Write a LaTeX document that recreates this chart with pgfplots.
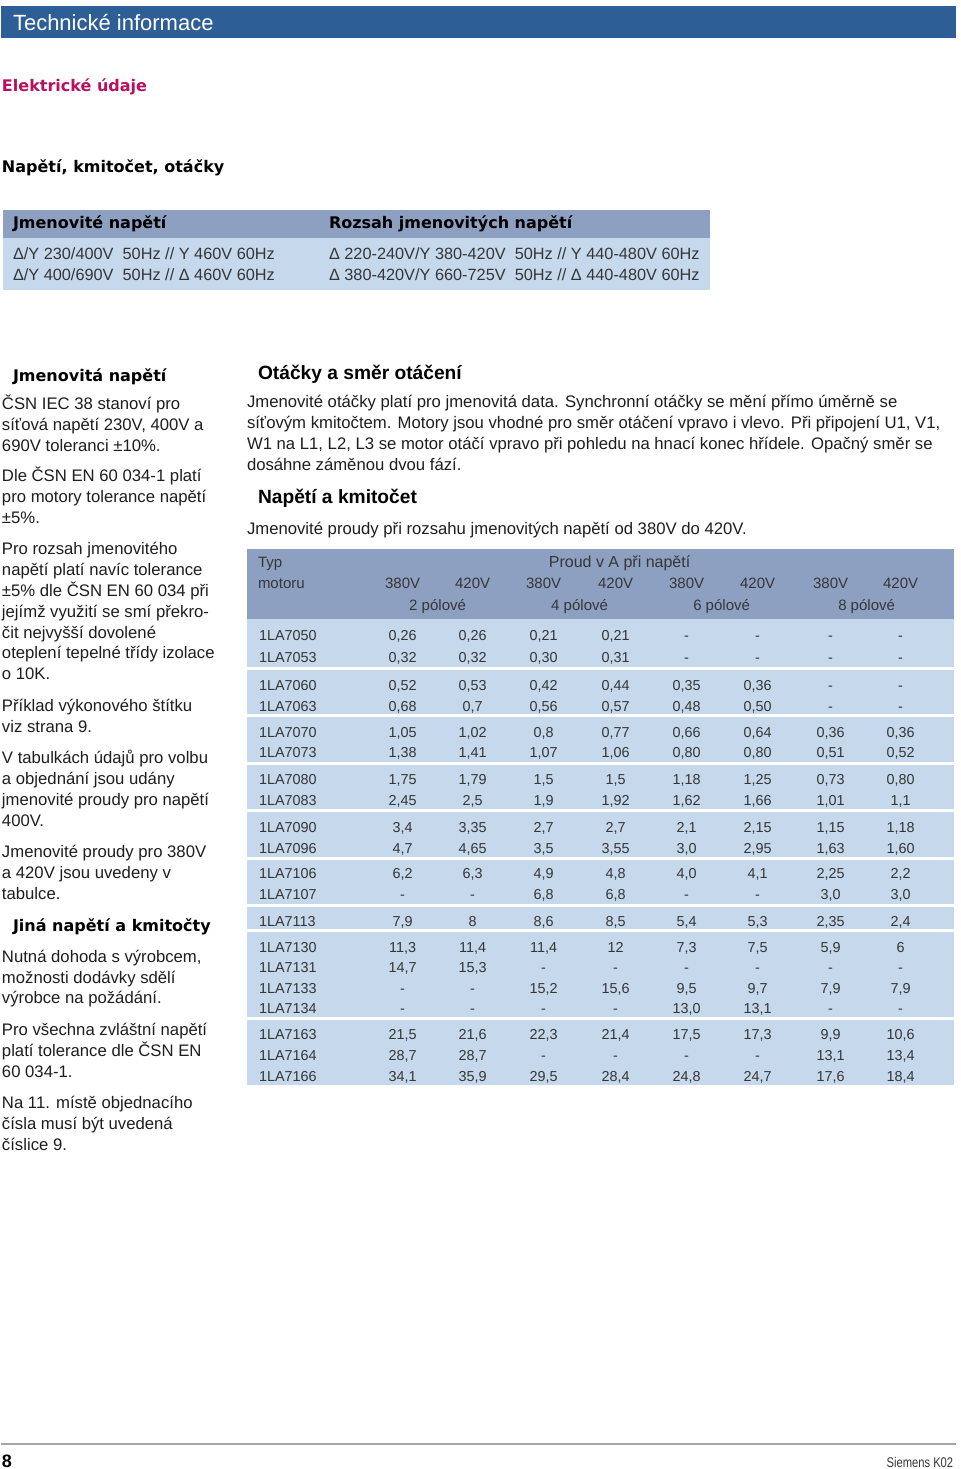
\documentclass[border=0pt]{standalone}
\usepackage{pgfplots}
\pgfplotsset{compat=1.18}
\usepackage{pgfplotstable}
\usepackage{fontspec}
\setmainfont{Liberation Sans}
\newfontfamily\wideb{DejaVu Sans}
\newfontfamily\condr{Liberation Sans}[FakeStretch=0.8]

\definecolor{titlebar}{HTML}{2E5E96}
\definecolor{magen}{HTML}{B80F5F}
\definecolor{hdr}{HTML}{8EA0C1}
\definecolor{band}{HTML}{C5D8EC}
\definecolor{txt}{HTML}{1E1E1E}
\definecolor{tbl}{HTML}{363636}

% proudy v A: 2, 4, 6, 8 pólové, vždy 380V a 420V
\pgfplotstableread{
name y a b c d e f g h
1LA7050 640 0,26 0,26 0,21 0,21 - - - -
1LA7053 662 0,32 0,32 0,30 0,31 - - - -
1LA7060 690 0,52 0,53 0,42 0,44 0,35 0,36 - -
1LA7063 711 0,68 0,7 0,56 0,57 0,48 0,50 - -
1LA7070 737 1,05 1,02 0,8 0,77 0,66 0,64 0,36 0,36
1LA7073 757 1,38 1,41 1,07 1,06 0,80 0,80 0,51 0,52
1LA7080 784 1,75 1,79 1,5 1,5 1,18 1,25 0,73 0,80
1LA7083 805 2,45 2,5 1,9 1,92 1,62 1,66 1,01 1,1
1LA7090 832 3,4 3,35 2,7 2,7 2,1 2,15 1,15 1,18
1LA7096 853 4,7 4,65 3,5 3,55 3,0 2,95 1,63 1,60
1LA7106 878 6,2 6,3 4,9 4,8 4,0 4,1 2,25 2,2
1LA7107 899 - - 6,8 6,8 - - 3,0 3,0
1LA7113 926 7,9 8 8,6 8,5 5,4 5,3 2,35 2,4
1LA7130 952 11,3 11,4 11,4 12 7,3 7,5 5,9 6
1LA7131 972 14,7 15,3 - - - - - -
1LA7133 993 - - 15,2 15,6 9,5 9,7 7,9 7,9
1LA7134 1013 - - - - 13,0 13,1 - -
1LA7163 1039 21,5 21,6 22,3 21,4 17,5 17,3 9,9 10,6
1LA7164 1060 28,7 28,7 - - - - 13,1 13,4
1LA7166 1081 34,1 35,9 29,5 28,4 24,8 24,7 17,6 18,4
}\proudy

\tikzset{
  lb/.style={anchor=base west,inner sep=0pt,text=txt,font=\fontsize{8.35pt}{10pt}\selectfont},
  hd/.style={anchor=base west,inner sep=0pt,text=black,font=\wideb\bfseries\fontsize{8pt}{10pt}\selectfont},
  hc/.style={anchor=base west,inner sep=0pt,text=black,font=\bfseries\fontsize{9.6pt}{11pt}\selectfont},
  th/.style={anchor=base,inner sep=0pt,text=tbl,font=\fontsize{7.5pt}{9pt}\selectfont},
  tb/.style={anchor=base west,inner sep=0pt,text=tbl,font=\fontsize{8.15pt}{10pt}\selectfont}}
\pgfplotsset{col/.style={draw=none,point meta=explicit symbolic,nodes near coords,
    nodes near coords align=center,
    every node near coord/.append style={anchor=base,inner sep=0pt,text=tbl,
      font=\fontsize{7.2pt}{9pt}\selectfont}}}

\newcommand\bl[3]{\node[lb] at (#1,#2) {#3};}

\begin{document}
\begin{tikzpicture}
\begin{axis}[scale only axis,width=480pt,height=734.5pt,
  xmin=0,xmax=960,ymin=0,ymax=1469,y dir=reverse,hide axis,clip=false]

\fill[white] (0,0) rectangle (960,1469);
% title bar
\fill[titlebar] (0,6) rectangle (955,38);
\node[anchor=base west,inner sep=0pt,text=white,font=\fontsize{11pt}{13pt}\selectfont] at (12,30) {Technické informace};
\node[hd,text=magen] at (1,91) {Elektrické údaje};
\node[hd] at (1,172) {Napětí, kmitočet, otáčky};

% upper table
\fill[hdr] (2,210) rectangle (709,238);
\fill[band] (2,238) rectangle (709,290);
\node[hd] at (12,228) {Jmenovité napětí};
\node[hd] at (328,228) {Rozsah jmenovitých napětí};
\node[tb] at (12,259) {Δ/Y 230/400V\ \ 50Hz // Y 460V 60Hz};
\node[tb] at (12,280) {Δ/Y 400/690V\ \ 50Hz // Δ 460V 60Hz};
\node[tb] at (328,259) {Δ 220-240V/Y 380-420V\ \ 50Hz // Y 440-480V 60Hz};
\node[tb] at (328,280) {Δ 380-420V/Y 660-725V\ \ 50Hz // Δ 440-480V 60Hz};

% left column
\node[hd] at (12,381) {Jmenovitá napětí};
\bl{1}{409}{ČSN IEC 38 stanoví pro}
\bl{1}{430}{síťová napětí 230V, 400V a}
\bl{1}{451}{690V toleranci ±10\%.}
\bl{1}{481}{Dle ČSN EN 60 034-1 platí}
\bl{1}{502}{pro motory tolerance napětí}
\bl{1}{523}{±5\%.}
\bl{1}{554}{Pro rozsah jmenovitého}
\bl{1}{575}{napětí platí navíc tolerance}
\bl{1}{596}{±5\% dle ČSN EN 60 034 při}
\bl{1}{617}{jejímž využití se smí překro-}
\bl{1}{638}{čit nejvyšší dovolené}
\bl{1}{658}{oteplení tepelné třídy izolace}
\bl{1}{679}{o 10K.}
\bl{1}{711}{Příklad výkonového štítku}
\bl{1}{732}{viz strana 9.}
\bl{1}{763}{V tabulkách údajů pro volbu}
\bl{1}{784}{a objednání jsou udány}
\bl{1}{805}{jmenovité proudy pro napětí}
\bl{1}{826}{400V.}
\bl{1}{857}{Jmenovité proudy pro 380V}
\bl{1}{878}{a 420V jsou uvedeny v}
\bl{1}{899}{tabulce.}
\node[hd] at (12,931) {Jiná napětí a kmitočty};
\bl{1}{962}{Nutná dohoda s výrobcem,}
\bl{1}{983}{možnosti dodávky sdělí}
\bl{1}{1003}{výrobce na požádání.}
\bl{1}{1035}{Pro všechna zvláštní napětí}
\bl{1}{1056}{platí tolerance dle ČSN EN}
\bl{1}{1077}{60 034-1.}
\bl{1}{1108}{Na 11. místě objednacího}
\bl{1}{1129}{čísla musí být uvedená}
\bl{1}{1150}{číslice 9.}

% right column
\node[hc] at (257,379) {Otáčky a směr otáčení};
\bl{246}{407}{Jmenovité otáčky platí pro jmenovitá data. Synchronní otáčky se mění přímo úměrně se}
\bl{246}{428}{síťovým kmitočtem. Motory jsou vhodné pro směr otáčení vpravo i vlevo. Při připojení U1, V1,}
\bl{246}{449}{W1 na L1, L2, L3 se motor otáčí vpravo při pohledu na hnací konec hřídele. Opačný směr se}
\bl{246}{470}{dosáhne záměnou dvou fází.}
\node[hc] at (257,503) {Napětí a kmitočet};
\bl{246}{534}{Jmenovité proudy při rozsahu jmenovitých napětí od 380V do 420V.}

% main table
\fill[hdr] (246,549) rectangle (953,619);
\fill[band] (246,619) rectangle (953,667);
\fill[band] (246,670) rectangle (953,714);
\fill[band] (246,717) rectangle (953,762);
\fill[band] (246,765) rectangle (953,809);
\fill[band] (246,812) rectangle (953,857);
\fill[band] (246,860) rectangle (953,904);
\fill[band] (246,907) rectangle (953,929);
\fill[band] (246,932) rectangle (953,1017);
\fill[band] (246,1020) rectangle (953,1085);
\node[th,anchor=base west] at (257,567) {Typ};
\node[th,anchor=base west] at (257,588) {motoru};
\node[th,font=\fontsize{8pt}{9pt}\selectfont] at (619,567) {Proud v A při napětí};
\node[th] at (402,588) {380V};
\node[th] at (472,588) {420V};
\node[th] at (543,588) {380V};
\node[th] at (615,588) {420V};
\node[th] at (686,588) {380V};
\node[th] at (757,588) {420V};
\node[th] at (830,588) {380V};
\node[th] at (900,588) {420V};
\node[th] at (437,610) {2 pólové};
\node[th] at (579,610) {4 pólové};
\node[th] at (721,610) {6 pólové};
\node[th] at (866,610) {8 pólové};

\addplot[col,every node near coord/.append style={anchor=base west}] table[x expr=258,y=y,meta=name] {\proudy};
\addplot[col] table[x expr=402,y=y,meta=a] {\proudy};
\addplot[col] table[x expr=472,y=y,meta=b] {\proudy};
\addplot[col] table[x expr=543,y=y,meta=c] {\proudy};
\addplot[col] table[x expr=615,y=y,meta=d] {\proudy};
\addplot[col] table[x expr=686,y=y,meta=e] {\proudy};
\addplot[col] table[x expr=757,y=y,meta=f] {\proudy};
\addplot[col] table[x expr=830,y=y,meta=g] {\proudy};
\addplot[col] table[x expr=900,y=y,meta=h] {\proudy};

% footer
\draw[gray!70,line width=0.6pt] (0,1444) -- (955,1444);
\node[anchor=base west,inner sep=0pt,font=\bfseries\fontsize{9pt}{10pt}\selectfont] at (1,1467) {8};
\node[anchor=base east,inner sep=0pt,text=tbl,font=\condr\fontsize{7pt}{9pt}\selectfont] at (953,1467) {Siemens K02};
\end{axis}
\end{tikzpicture}
\end{document}
